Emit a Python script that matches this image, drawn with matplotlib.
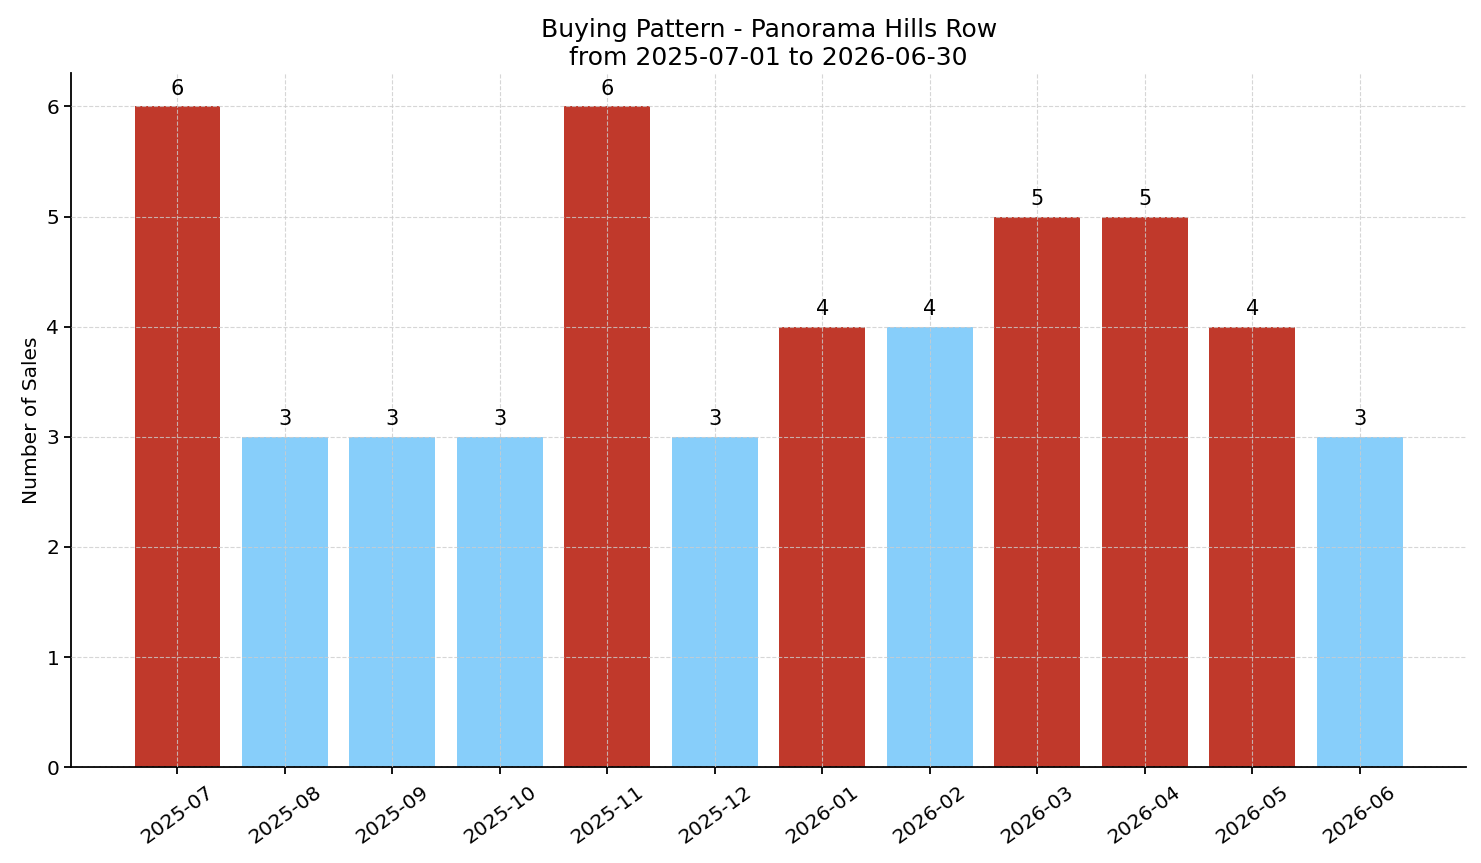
import numpy as np
import matplotlib
matplotlib.use('Agg')
import matplotlib.pyplot as plt

months = ['2025-07', '2025-08', '2025-09', '2025-10', '2025-11', '2025-12',
          '2026-01', '2026-02', '2026-03', '2026-04', '2026-05', '2026-06']
sales = [6, 3, 3, 3, 6, 3, 4, 4, 5, 5, 4, 3]
highlight = [True, False, False, False, True, False, True, False, True, True, True, False]

colors = ['#c0392b' if h else '#87cefa' for h in highlight]

fig, ax = plt.subplots(figsize=(14.81, 8.63), dpi=100)
bars = ax.bar(months, sales, color=colors, width=0.8, zorder=1)

# valeurs au-dessus des barres
for b, v in zip(bars, sales):
    ax.text(b.get_x() + b.get_width() / 2, v + 0.07, str(v),
            ha='center', va='bottom', fontsize=15)

ax.set_title('Buying Pattern - Panorama Hills Row\nfrom 2025-07-01 to 2026-06-30', fontsize=18)
ax.set_ylabel('Number of Sales', fontsize=14.5)
ax.grid(True, linestyle='--', color='#cccccc', linewidth=0.8, alpha=0.8, zorder=2)
ax.set_axisbelow(False)
for s in ['top', 'right']:
    ax.spines[s].set_visible(False)
for s in ['left', 'bottom']:
    ax.spines[s].set_linewidth(1.3)
ax.tick_params(axis='both', labelsize=14.5, width=1.3, length=5)
ax.tick_params(axis='x', pad=6)
plt.setp(ax.get_xticklabels(), rotation=36)

fig.subplots_adjust(left=0.048, right=0.99, top=0.915, bottom=0.111)
fig.savefig('out.png', dpi=100)
